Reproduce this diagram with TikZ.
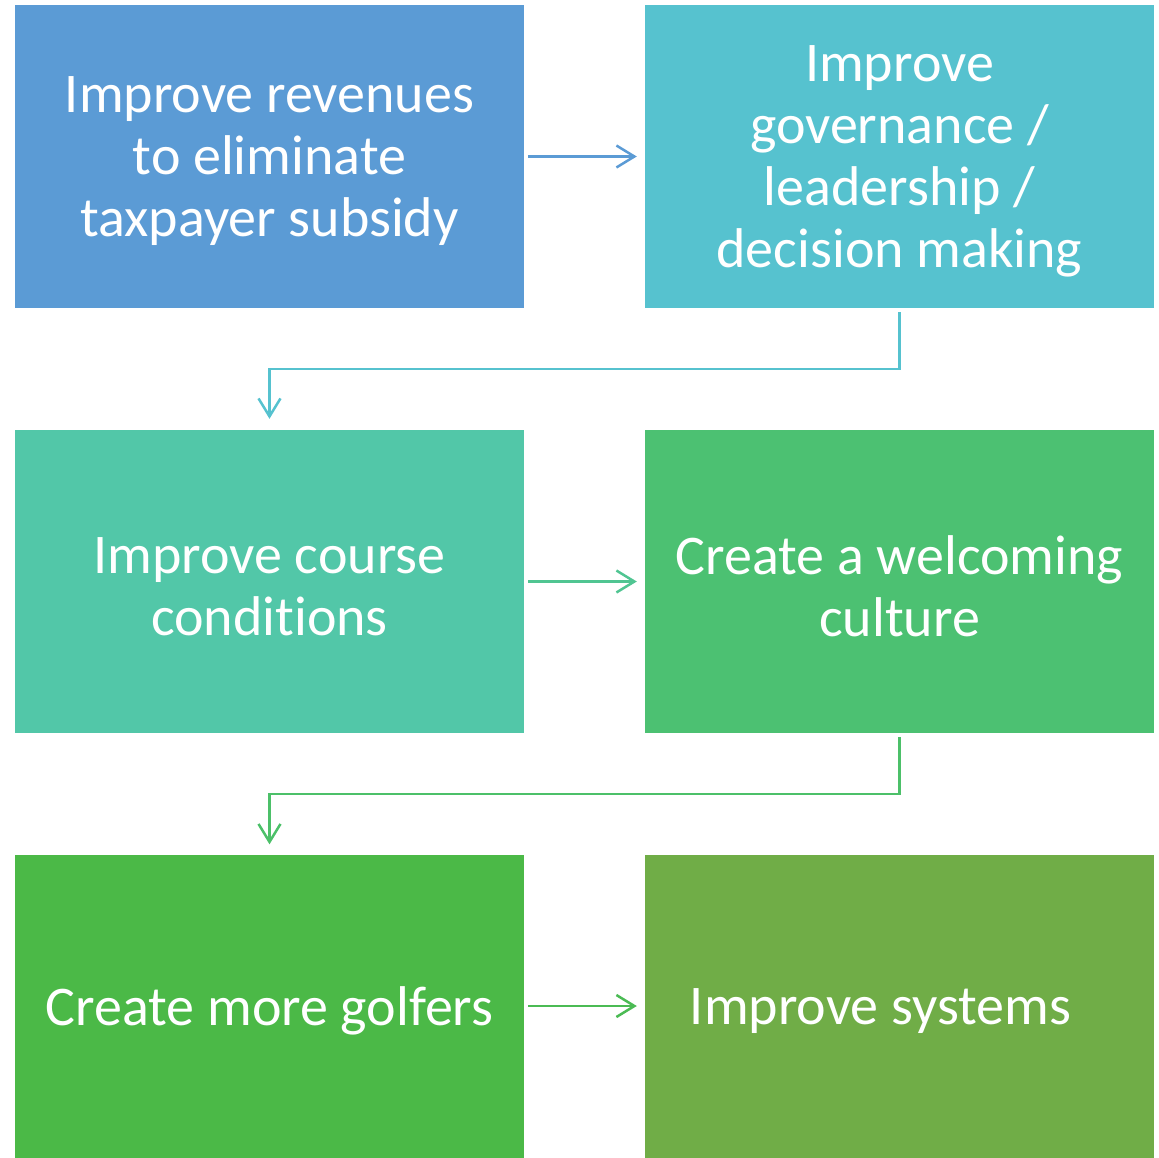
\documentclass[tikz,border=0pt]{standalone}
\usepackage{fontspec}
\setmainfont{Carlito}[Ligatures=NoCommon]
\usetikzlibrary{arrows.meta}
\definecolor{cA}{HTML}{5B9BD5}
\definecolor{cB}{HTML}{56C2CF}
\definecolor{cC}{HTML}{52C7A8}
\definecolor{cD}{HTML}{4CC172}
\definecolor{cE}{HTML}{4BB947}
\definecolor{cF}{HTML}{70AD47}
\begin{document}
\begin{tikzpicture}[x=1pt,y=-1pt,
  box/.style={rectangle, inner sep=0pt, minimum width=509pt, minimum height=303pt},
  label text/.style={text=white, align=center, inner sep=0pt, font=\fontsize{56}{62}\selectfont},
  link/.style={line width=2.5pt, -{Straight Barb[length=18pt,width=22pt,line width=2.5pt]}}]
\useasboundingbox (0,0) rectangle (1159,1157);
% coloured step boxes
\node[box, fill=cA] (b1) at (269.5,156.5) {};
\node[box, fill=cB] (b2) at (899.5,156.5) {};
\node[box, fill=cC] (b3) at (269.5,581.5) {};
\node[box, fill=cD] (b4) at (899.5,581.5) {};
\node[box, fill=cE] (b5) at (269.5,1006) {};
\node[box, fill=cF] (b6) at (899.5,1006) {};
% step texts, set a little below the box centres
\node[label text] (t1) at ([yshift=-5pt]b1.center) {Improve revenues\\to eliminate\\taxpayer subsidy};
\node[label text] (t2) at ([yshift=-5pt]b2.center) {Improve\\governance /\\leadership /\\decision making};
\node[label text] (t3) at ([yshift=-5pt]b3.center) {Improve course\\conditions};
\node[label text] (t4) at ([yshift=-5pt]b4.center) {Create a welcoming\\culture};
\node[label text] (t5) at ([yshift=-5pt]b5.center) {Create more golfers};
\node[label text] (t6) at ([xshift=-19pt,yshift=-5pt]b6.center) {Improve systems};
% connectors between the steps
\draw[link, cA] ([xshift=4pt]b1.east) -- ([xshift=-8pt]b2.west);
\draw[link, cB] ([yshift=-4pt]b2.south) |- (585,369) -| ([yshift=11pt]b3.north);
\draw[link, cC!60!cD] ([xshift=4pt]b3.east) -- ([xshift=-8pt]b4.west);
\draw[link, cD!80!cE] ([yshift=-4pt]b4.south) |- (585,794) -| ([yshift=10pt]b5.north);
\draw[link, cE!70!cD] ([xshift=4pt]b5.east) -- ([xshift=-8pt]b6.west);
\end{tikzpicture}
\end{document}
